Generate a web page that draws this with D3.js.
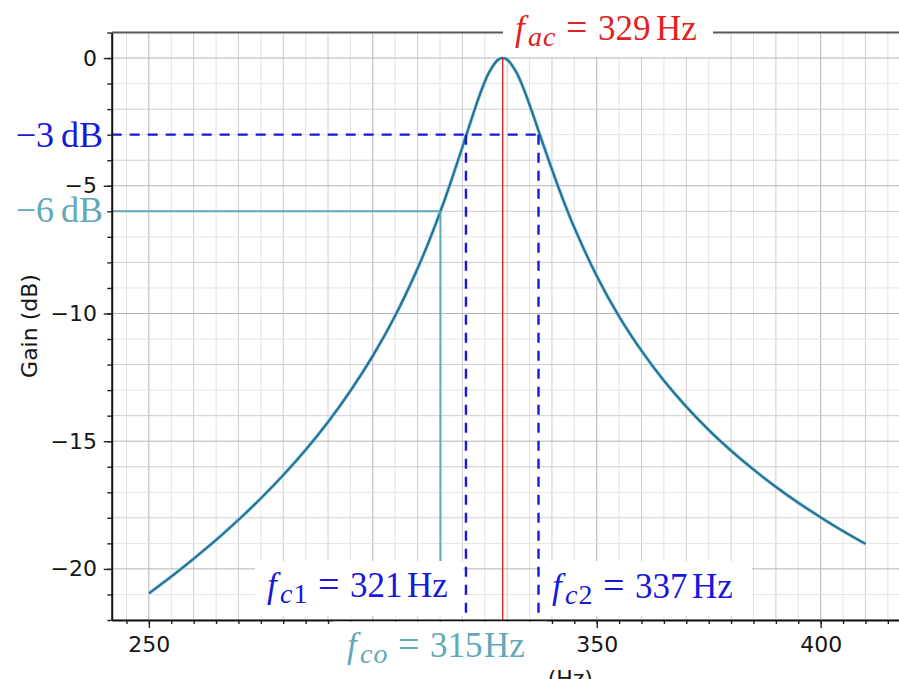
<!DOCTYPE html>
<html><head><meta charset="utf-8">
<script src="https://cdn.jsdelivr.net/npm/d3@7"></script>
<style>body{margin:0;background:#fff}svg{display:block}</style>
</head><body>
<svg id="c" width="899" height="679"></svg>
<script>
// ---- data ----
const freqs = [250,255,260,265,270,275,280,285,290,295,300,305,310,313,316,318,320,322,324,326,328,329,330,332,334,336,338,340,342,345,350,355,360,365,370,375,380,385,390,395,400,405,410];
const gains = [-20.96,-20.30,-19.60,-18.87,-18.08,-17.24,-16.33,-15.34,-14.25,-13.03,-11.66,-10.09,-8.24,-6.97,-5.57,-4.55,-3.49,-2.41,-1.38,-0.55,-0.06,0,-0.06,-0.54,-1.35,-2.33,-3.36,-4.36,-5.32,-6.64,-8.53,-10.12,-11.46,-12.63,-13.65,-14.56,-15.37,-16.11,-16.79,-17.41,-17.98,-18.52,-19.02];
const xMajorTicks = [250,300,350,400];
const xTickLabels = [250,350,400];          // 300 is hidden behind the f_co label
const yTickLabels = [0,-5,-10,-15,-20];
const markerFreqs = [329, 320.8, 337.0, 315.1];   // f_ac, f_c1, f_c2, f_co
const markerSubs = [["ac",""],["c","1"],["c","2"],["co",""]];
const markerLevels = [-3, -6];                   // dB levels
const xDomain = [241.7, 419.5];
const yDomain = [-22, 1];

const svg = d3.select('#c');
const x = d3.scaleLinear().domain(xDomain).range([111.7, 908]);
const y = d3.scaleLinear().domain(yDomain).range([620, 32.5]);

const blue = '#1818d8', red = '#e22222', teal = '#62a8b8';

// ---- grid ----
const grid = svg.append('g');
const gxVals = d3.range(245, 420, 5).filter(v => v >= xDomain[0] && v <= xDomain[1]);
const gyVals = d3.range(-22, 2, 1);
function gridColor(v, maj, med){ return v % maj === 0 ? '#b4b4b4' : (v % med === 0 ? '#cecece' : '#e4e4e4'); }
grid.selectAll('line.gx').data(gxVals).join('line')
  .attr('x1', d => x(d)).attr('x2', d => x(d)).attr('y1', y(yDomain[0])).attr('y2', y(yDomain[1]))
  .attr('stroke', d => gridColor(d, 50, 10)).attr('stroke-width', 1);
grid.selectAll('line.gy').data(gyVals).join('line')
  .attr('y1', d => y(d)).attr('y2', d => y(d)).attr('x1', x(xDomain[0])).attr('x2', 908)
  .attr('stroke', d => gridColor(d, 5, 2)).attr('stroke-width', 1);

// ---- curve ----
const pts = freqs.map((f, i) => [f, gains[i]]);
const line = d3.line().x(d => x(d[0])).y(d => y(d[1])).curve(d3.curveCatmullRom.alpha(0.5));
svg.append('path').attr('d', line(pts)).attr('fill', 'none').attr('stroke', '#7cc8e4').attr('stroke-width', 3.4);
svg.append('path').attr('d', line(pts)).attr('fill', 'none').attr('stroke', '#2a6f8e').attr('stroke-width', 2);

// ---- annotation lines ----
const [fac, fc1, fc2, fco] = markerFreqs;
const [l3, l6] = markerLevels;
const ann = svg.append('g');
ann.append('line').attr('x1', x(fac)).attr('x2', x(fac)).attr('y1', y(0)).attr('y2', y(yDomain[0]))
  .attr('stroke', red).attr('stroke-width', 1.4);
ann.append('line').attr('x1', x(xDomain[0])).attr('x2', x(fco)).attr('y1', y(l6)).attr('y2', y(l6))
  .attr('stroke', teal).attr('stroke-width', 2);
ann.append('line').attr('x1', x(fco)).attr('x2', x(fco)).attr('y1', y(l6)).attr('y2', 561)
  .attr('stroke', teal).attr('stroke-width', 2);
const dash = '10,8';
ann.append('line').attr('x1', x(xDomain[0])).attr('x2', x(fc2)).attr('y1', y(l3)).attr('y2', y(l3))
  .attr('stroke', blue).attr('stroke-width', 2.4).attr('stroke-dasharray', dash);
[fc1, fc2].forEach(f => {
  ann.append('line').attr('x1', x(f)).attr('x2', x(f)).attr('y1', y(l3)).attr('y2', y(yDomain[0]))
    .attr('stroke', blue).attr('stroke-width', 2.4).attr('stroke-dasharray', dash);
});

// ---- axes ----
const fontSans = 'DejaVu Sans, sans-serif';
function styleAxis(g){
  g.selectAll('text').attr('font-family', fontSans).attr('font-size', 22).attr('fill', '#151515');
  g.selectAll('line').attr('stroke', '#222').attr('stroke-width', 1.4);
}
const xMinor = d3.range(245, 420, 5).filter(v => v >= xDomain[0] && v <= xDomain[1]);
const gxMin = svg.append('g').attr('transform', `translate(0,620)`)
  .call(d3.axisBottom(x).tickValues(xMinor).tickFormat('').tickSize(4).tickSizeOuter(0));
gxMin.select('.domain').remove(); styleAxis(gxMin);
const gxMaj = svg.append('g').attr('transform', `translate(0,620)`)
  .call(d3.axisBottom(x).tickValues(xMajorTicks).tickFormat(d => xTickLabels.includes(d) ? d3.format('d')(d) : null)
    .tickSize(8).tickPadding(8).tickSizeOuter(0));
gxMaj.selectAll('.tick text').filter(function(){ return !this.textContent; }).remove();
styleAxis(gxMaj);
gxMaj.select('.domain').attr('stroke', '#111').attr('stroke-width', 2);

const yMinor = d3.range(-22, 2, 1);
const gyMin = svg.append('g').attr('transform', `translate(111.7,0)`)
  .call(d3.axisLeft(y).tickValues(yMinor).tickFormat('').tickSize(4.4).tickSizeOuter(0));
gyMin.select('.domain').remove(); styleAxis(gyMin);
const gyMaj = svg.append('g').attr('transform', `translate(111.7,0)`)
  .call(d3.axisLeft(y).tickValues(yTickLabels).tickFormat(d3.format('d')).tickSize(8).tickPadding(6.7).tickSizeOuter(0));
styleAxis(gyMaj);
gyMaj.select('.domain').attr('stroke', '#111').attr('stroke-width', 2);
svg.append('line').attr('x1', 111.7).attr('x2', 908).attr('y1', y(yDomain[1])).attr('y2', y(yDomain[1]))
  .attr('stroke', '#5a5a5a').attr('stroke-width', 2);

svg.append('text').attr('transform', 'translate(37,326) rotate(-90)').attr('text-anchor', 'middle')
  .attr('font-family', fontSans).attr('font-size', 22).attr('fill', '#151515').text('Gain (dB)');
svg.append('text').attr('x', 510).attr('y', 686).attr('text-anchor', 'middle')
  .attr('font-family', fontSans).attr('font-size', 22).attr('fill', '#151515').text('Frequency (Hz)');

// ---- label boxes ----
const boxes = [[503, 4, 210, 53], [255, 561, 208, 55], [540, 561, 212, 55], [333, 621.5, 214, 58]];
svg.append('g').selectAll('rect').data(boxes).join('rect')
  .attr('x', d => d[0]).attr('y', d => d[1]).attr('width', d => d[2]).attr('height', d => d[3]).attr('fill', '#fff');

// ---- math labels ----
const serif = 'Liberation Serif, Times New Roman, serif';
function mathLabel(x0, base, color, sub, value, hzOff){
  const t = svg.append('text').attr('y', base).attr('fill', color).attr('font-family', serif).attr('font-size', 35);
  t.append('tspan').attr('x', x0).attr('font-style', 'italic').text('f');
  t.append('tspan').attr('x', x0 + 13).attr('dy', 6).attr('font-style', 'italic').attr('font-size', 28)
    .attr('letter-spacing', 1).text(sub[0]);
  if (sub[1]) t.append('tspan').attr('font-size', 28).text(sub[1]);
  t.append('tspan').attr('x', x0 + 51).attr('dy', -6).attr('font-size', 38).text('=');
  t.append('tspan').attr('x', x0 + 83).text(value);
  t.append('tspan').attr('x', x0 + hzOff).text('Hz');
}
mathLabel(515, 40, red, markerSubs[0], Math.round(fac), 141);
mathLabel(267, 597, blue, markerSubs[1], Math.round(fc1), 140);
mathLabel(552, 598, blue, markerSubs[2], Math.round(fc2), 140);
mathLabel(347, 657, teal, markerSubs[3], Math.round(fco), 137);

function dbLabel(base, color, level){
  const t = svg.append('text').attr('x', 103).attr('y', base).attr('text-anchor', 'end').attr('fill', color)
    .attr('font-family', serif).attr('font-size', 36);
  t.append('tspan').text('\u2212' + Math.abs(level));
  t.append('tspan').attr('dx', 7).text('dB');
}
dbLabel(146.5, blue, l3);
dbLabel(221.7, teal, l6);
</script>
</body></html>
